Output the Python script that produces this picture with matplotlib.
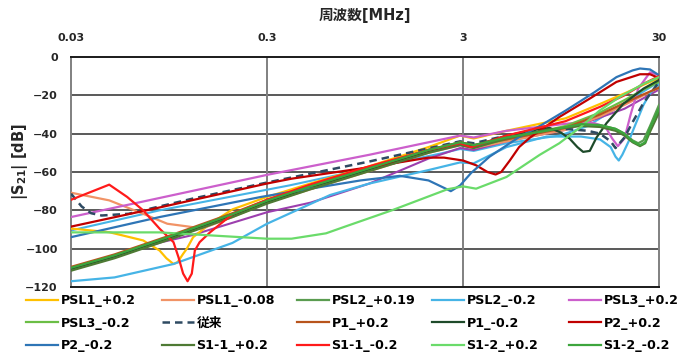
import matplotlib
matplotlib.use("Agg")
import matplotlib.pyplot as plt

plt.rcParams['font.family'] = ['DejaVu Sans', 'Noto Sans CJK JP']
plt.rcParams['font.weight'] = 'bold'
plt.rcParams['mathtext.default'] = 'bf'

# 周波数[MHz] と |S21| [dB] の読み取り値（系列ごと）
psl1_p02_f = [0.03, 0.047, 0.07, 0.085, 0.092, 0.1, 0.105, 0.112, 0.117, 0.126, 0.154, 0.2, 0.3, 0.5, 1, 2, 2.9, 3.4, 5, 10, 15, 20, 25, 30]
psl1_p02_db = [-89.5, -91.4, -95.7, -101, -105, -108, -107, -102.7, -100, -94, -87, -79.5, -73, -66, -57, -47, -41, -42.5, -38.5, -32, -24.5, -19, -14.5, -11]

psl1_m008_f = [0.03, 0.047, 0.07, 0.093, 0.12, 0.14, 0.2, 0.3, 0.5, 1, 2, 2.9, 3.4, 5, 10, 15, 20, 25, 30]
psl1_m008_db = [-70.8, -74.8, -81.8, -87, -88.5, -89.5, -83.5, -76, -69, -59.5, -50, -46, -47.5, -44, -38, -31, -25, -20, -16]

psl2_p019_f = [0.03, 0.05, 0.1, 0.2, 0.3, 0.5, 1, 2, 2.9, 3.4, 5, 8, 12, 15, 18, 20, 22, 23.5, 25, 27, 30]
psl2_p019_db = [-110, -103.5, -93, -82, -75, -67.5, -58, -48.5, -44.5, -46, -42, -38.5, -35, -35.5, -37.5, -40, -43.5, -45, -43.5, -36, -25]

psl2_m02_f = [0.03, 0.05, 0.1, 0.2, 0.3, 0.63, 1, 2, 2.9, 3.4, 5, 8, 12, 15, 17, 18, 18.7, 19.5, 21, 23, 25, 27, 30]
psl2_m02_db = [-117, -115, -108, -97, -87, -72, -66, -59, -55, -55.5, -47, -41.5, -41.5, -43, -47, -52, -54, -51, -44, -34, -25, -19, -14]

psl3_p02_f = [0.03, 0.3, 1, 2.9, 3.4, 5, 8, 12, 14, 16, 17.3, 18.5, 20, 21.5, 23.5, 27, 30]
psl3_p02_db = [-83.5, -61.5, -51, -41, -42, -38.5, -36, -34, -34.5, -36.5, -42.5, -46.5, -42.5, -30, -16.5, -8, -9.5]

psl3_m02_f = [0.03, 0.05, 0.1, 0.2, 0.3, 0.5, 1, 2, 2.9, 3.4, 5, 10, 15, 20, 25, 30]
psl3_m02_db = [-111, -104.5, -94, -83, -76, -68.5, -59, -49.5, -45.5, -47, -43, -36, -29, -22.5, -17, -13]

conv_f = [0.03, 0.034, 0.038, 0.043, 0.059, 0.124, 0.3, 1, 2.9, 3.4, 5, 8, 10, 13, 15, 17, 18, 20, 22, 25, 30]
conv_db = [-71.3, -78, -81.5, -82.7, -81.8, -74, -65.5, -54.5, -44, -45, -41, -38, -37.5, -38.5, -40, -44, -47.5, -42, -34, -24, -13]

p1_p02_f = [0.03, 0.05, 0.1, 0.2, 0.3, 0.5, 1, 2, 2.9, 3.4, 5, 10, 15, 20, 25, 30]
p1_p02_db = [-109.5, -103, -92.5, -81.5, -74.5, -67, -58, -48.5, -44.5, -46, -43, -37, -30, -24, -19.5, -16]

p1_m02_f = [0.03, 0.05, 0.1, 0.2, 0.3, 0.5, 1, 2, 2.9, 3.4, 5, 7, 8.3, 9.5, 10.5, 11.5, 12.3, 13.3, 14.4, 16.2, 19.7, 25, 30]
p1_m02_db = [-110.5, -104, -93.5, -82.5, -75.5, -68, -58.5, -49, -45, -46.5, -41, -38, -37, -39.5, -42.6, -47, -49.5, -49, -42, -34.5, -24.5, -16.5, -12]

p2_p02_f = [0.03, 0.085, 0.3, 0.4, 1, 2, 2.4, 3, 3.5, 4, 4.4, 4.7, 5.2, 5.8, 6.6, 9.3, 13.3, 18.2, 24, 27, 30]
p2_p02_db = [-88.5, -78.5, -66, -63.5, -57.5, -52.5, -52.5, -54, -56.5, -60, -61.3, -60, -54, -47, -42, -31.3, -21.7, -13, -9, -9, -11]

p2_m02_f = [0.03, 0.085, 0.28, 0.39, 0.9, 1.43, 2, 2.45, 2.6, 2.9, 3.3, 4.1, 5.75, 7.4, 10, 14, 18.2, 22, 24, 27, 30]
p2_m02_db = [-94, -83.5, -73, -70.5, -64.4, -62, -64.4, -68.7, -70, -67, -60.5, -52, -42, -36, -28, -18.5, -10.5, -7, -6, -6.5, -9.5]

s11_p02_f = [0.03, 0.05, 0.1, 0.2, 0.3, 0.5, 1, 2, 2.9, 3.4, 5, 8, 12, 15, 18, 20, 22, 24, 25.5, 27, 30]
s11_p02_db = [-111.5, -105, -94.5, -83.5, -76.5, -69, -59.5, -50, -46, -47.5, -42.5, -38, -36, -36.5, -38.5, -41, -44.5, -46.5, -45, -39, -29]

s11_m02_f = [0.03, 0.047, 0.058, 0.07, 0.085, 0.1, 0.106, 0.112, 0.118, 0.124, 0.1285, 0.136, 0.154, 0.2, 0.3, 0.5, 1, 2, 2.9, 3.3, 5, 10, 15, 20, 25, 30]
s11_m02_db = [-74.5, -66.6, -73, -80, -89.6, -96.6, -104.4, -113, -117, -113, -101, -96.6, -91.4, -82, -74.5, -66.5, -57, -48.5, -45, -47, -41, -33.5, -26, -20, -14, -10]

s12_p02_f = [0.03, 0.05, 0.085, 0.15, 0.3, 0.4, 0.6, 0.75, 1.3, 2.5, 3, 3.5, 5, 7.4, 9.3, 11.8, 14.9, 18.8, 25, 30]
s12_p02_db = [-91.5, -91.5, -91.5, -93, -94.8, -94.8, -92, -88.5, -80, -69, -67.5, -68.7, -62.6, -51, -45, -37, -28, -21, -14, -10.5]

s12_m02_f = [0.03, 0.05, 0.1, 0.2, 0.3, 0.5, 1, 2, 2.9, 3.4, 5, 8, 12, 15, 18, 20, 22, 24, 25.5, 27, 30]
s12_m02_db = [-110, -103.5, -93, -82, -75, -67.5, -58, -48.5, -44.5, -46, -42, -38.5, -35, -35.5, -37.5, -40, -44, -46, -44.5, -37, -27]

# 凡例に無い線（水色・紫）
extra_blue_f = [0.03, 0.085, 0.39, 1, 2.3, 2.9, 3.4, 5, 9.3, 13, 20, 25, 30]
extra_blue_db = [-90.5, -80, -67, -58, -50.4, -48, -49, -45, -41, -36, -24, -18, -13]

extra_purple_f = [0.03, 0.087, 0.124, 0.3, 0.5, 1, 2, 2.9, 3.4, 5, 10, 20, 30]
extra_purple_db = [-110.5, -96.6, -93, -81, -76, -66, -53, -47.5, -48.5, -44, -38, -27, -17]

series = [
    ('PSL1_+0.2', psl1_p02_f, psl1_p02_db, '#FFC000', '-'),
    ('PSL1_-0.08', psl1_m008_f, psl1_m008_db, '#F19366', '-'),
    ('PSL2_+0.19', psl2_p019_f, psl2_p019_db, '#5A9C50', '-'),
    ('PSL2_-0.2', psl2_m02_f, psl2_m02_db, '#46B4E6', '-'),
    ('PSL3_+0.2', psl3_p02_f, psl3_p02_db, '#CC5FCC', '-'),
    ('PSL3_-0.2', psl3_m02_f, psl3_m02_db, '#6BBE45', '-'),
    ('従来', conv_f, conv_db, '#2E4A62', '--'),
    ('P1_+0.2', p1_p02_f, p1_p02_db, '#B8541C', '-'),
    ('P1_-0.2', p1_m02_f, p1_m02_db, '#1E4A2A', '-'),
    ('P2_+0.2', p2_p02_f, p2_p02_db, '#C00000', '-'),
    ('P2_-0.2', p2_m02_f, p2_m02_db, '#2E75B6', '-'),
    ('S1-1_+0.2', s11_p02_f, s11_p02_db, '#4E7A34', '-'),
    ('S1-1_-0.2', s11_m02_f, s11_m02_db, '#FF1A1A', '-'),
    ('S1-2_+0.2', s12_p02_f, s12_p02_db, '#6ADB6A', '-'),
    ('S1-2_-0.2', s12_m02_f, s12_m02_db, '#3DA53D', '-'),
]

x_ticks = [0.03, 0.3, 3, 30]
x_tick_labels = ['0.03', '0.3', '3', '30']
y_ticks = [0, -20, -40, -60, -80, -100, -120]

fig = plt.figure(figsize=(6.86, 3.59), dpi=100)
ax = fig.add_axes([71 / 686, 1 - 287 / 359, 588 / 686, 230 / 359])

# グリッド
for yv in y_ticks[1:-1]:
    ax.axhline(yv, color='#595959', lw=1.4, zorder=1)
for xv in x_ticks[1:-1]:
    ax.axvline(xv, color='#808080', lw=1.4, zorder=1)

ax.plot(extra_blue_f, extra_blue_db, color='#46B4E6', lw=1.5, zorder=2)
ax.plot(extra_purple_f, extra_purple_db, color='#9C3FAE', lw=1.5, zorder=2)

handles = []
for name, f, db, c, ls in series:
    if ls == '--':
        h, = ax.plot(f, db, color=c, lw=1.8, ls=(0, (3, 2)), label=name, zorder=3)
    else:
        h, = ax.plot(f, db, color=c, lw=1.6, label=name, zorder=3)
    handles.append(h)

ax.set_xscale('log')
ax.set_xlim(0.03, 30)
ax.set_ylim(-120, 0)
ax.xaxis.tick_top()
ax.set_xticks(x_ticks)
ax.set_xticklabels(x_tick_labels)
ax.xaxis.set_minor_locator(matplotlib.ticker.NullLocator())
ax.set_yticks(y_ticks)
ax.tick_params(axis='both', length=0, labelsize=8, colors='#262626')
ax.tick_params(axis='x', pad=10)
ax.tick_params(axis='y', pad=9.5)
for lab in ax.get_xticklabels() + ax.get_yticklabels():
    lab.set_fontweight('bold')

for s in ['top', 'bottom']:
    ax.spines[s].set_color('#1A1A1A')
    ax.spines[s].set_linewidth(1.4)
for s in ['left', 'right']:
    ax.spines[s].set_color('#808080')
    ax.spines[s].set_linewidth(1.4)

fig.text(20 / 686, 1 - 162 / 359, '|S$_{\\mathbf{21}}$| [dB]', rotation=90, ha='center', va='center',
         fontsize=10.5, fontweight='bold', color='#262626')
fig.text(365 / 686, 1 - 15 / 359, '周波数[MHz]', ha='center', va='center', fontsize=10.5,
         fontweight='bold', color='#262626')

# 凡例は列ごとに等間隔で置く（行方向に並ぶ）
col_x = [26, 162, 297, 432, 569]
for c in range(5):
    idx = [r * 5 + c for r in range(3)]
    fig.legend([handles[i] for i in idx], [series[i][0] for i in idx],
               loc='upper left', bbox_to_anchor=(col_x[c] / 686, 1 - 294 / 359),
               frameon=False, handlelength=2.5, handletextpad=0.2,
               labelspacing=0.75, borderpad=0, borderaxespad=0,
               prop={'weight': 'bold', 'size': 9.2})

fig.savefig('out.png', dpi=100)
